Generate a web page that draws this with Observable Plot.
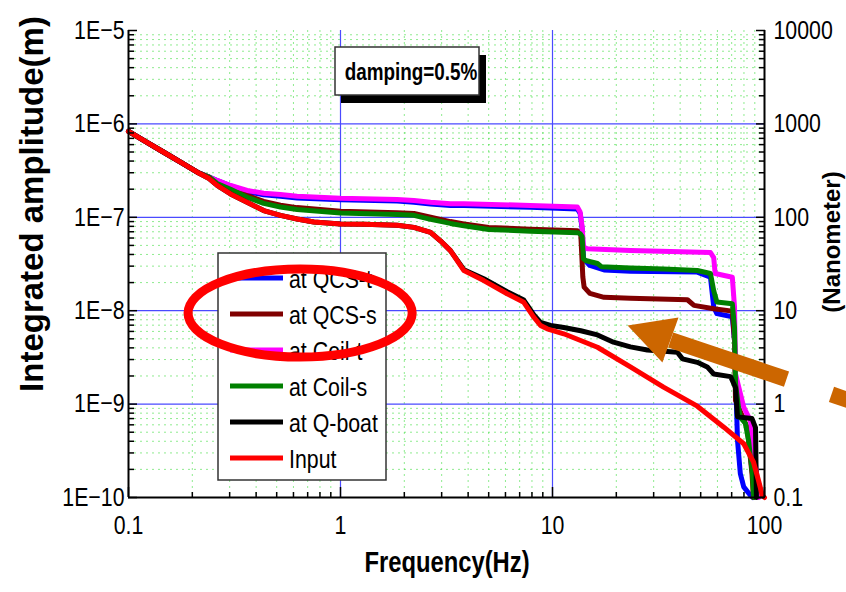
<!DOCTYPE html>
<html><head><meta charset="utf-8">
<script src="https://cdn.jsdelivr.net/npm/d3@7"></script>
<script src="https://cdn.jsdelivr.net/npm/@observablehq/plot@0.6"></script>
<style>
html,body{margin:0;padding:0;background:#fff;}
#chart{width:846px;height:592px;overflow:hidden;}
</style></head><body><div id="chart"></div>
<script>
// ---- series (frequency Hz, integrated amplitude m) ----
const seriesNames  = ["at QCS-t","at QCS-s","at Coil-t","at Coil-s","at Q-boat","Input"];
const seriesColors = ["#0000ff","#800000","#ff00ff","#008000","#000000","#ff0000"];

const fQcsT = [0.1,0.12,0.146,0.18,0.211,0.24,0.262,0.303,0.363,0.434,0.521,0.624,1.0,1.85,2.22,2.66,3.3,3.82,7.87,13.1,13.5,13.8,14.0,15.0,17.5,23.3,48.2,55.6,57.6,59.6,70.5,72.2,74.6,76.9,79.8,85.9,88.0];
const aQcsT = [8.3e-7,6.5e-7,5.0e-7,3.77e-7,3.04e-7,2.7e-7,2.48e-7,2.17e-7,1.88e-7,1.74e-7,1.68e-7,1.61e-7,1.54e-7,1.49e-7,1.45e-7,1.39e-7,1.34e-7,1.34e-7,1.28e-7,1.23e-7,1.1e-7,7.5e-8,3.6e-8,3.05e-8,2.73e-8,2.64e-8,2.59e-8,2.28e-8,1.1e-8,9.3e-9,8.6e-9,4.8e-9,4.07e-10,1.8e-10,1.3e-10,1.05e-10,1.0e-10];

const fQcsS = [0.1,0.12,0.146,0.18,0.211,0.24,0.262,0.303,0.363,0.434,0.521,0.624,1.0,1.85,2.22,2.66,3.3,3.82,5.0,7.87,13.1,13.6,13.9,14.1,15.0,17.5,23.3,43.3,46.5,57.6,70.5,72.2,73.0,82.9,87.3,88.7];
const aQcsS = [8.3e-7,6.5e-7,5.0e-7,3.77e-7,3.04e-7,2.7e-7,2.32e-7,2.06e-7,1.72e-7,1.48e-7,1.35e-7,1.27e-7,1.16e-7,1.12e-7,1.10e-7,1.0e-7,9.0e-8,8.5e-8,7.8e-8,7.45e-8,7.2e-8,6.5e-8,2.3e-8,1.79e-8,1.53e-8,1.39e-8,1.36e-8,1.31e-8,1.14e-8,1.05e-8,9.9e-9,4.8e-9,1.09e-9,5.6e-10,1.8e-10,1.0e-10];

const fCoilT = [0.1,0.12,0.146,0.18,0.211,0.24,0.262,0.303,0.363,0.434,0.521,0.624,1.0,1.85,2.22,2.66,3.3,3.82,7.87,13.1,13.5,13.8,14.0,14.6,23.3,55.6,57.6,58.5,70.5,72.2,73.0,79.8,85.9,88.7,92.7,93.7];
const aCoilT = [8.3e-7,6.5e-7,5.0e-7,3.77e-7,3.04e-7,2.7e-7,2.48e-7,2.19e-7,1.94e-7,1.81e-7,1.75e-7,1.68e-7,1.60e-7,1.55e-7,1.51e-7,1.45e-7,1.40e-7,1.40e-7,1.34e-7,1.29e-7,1.14e-7,7.9e-8,4.8e-8,4.6e-8,4.4e-8,4.2e-8,3.7e-8,2.5e-8,2.28e-8,1.1e-8,2.1e-9,9.3e-10,6.6e-10,3.4e-10,1.5e-10,1.0e-10];

const fCoilS = [0.1,0.12,0.146,0.18,0.211,0.24,0.262,0.303,0.363,0.434,0.521,0.624,1.0,1.85,2.22,2.66,3.3,3.82,5.0,7.87,13.1,13.5,13.8,14.0,14.3,16.3,17.0,23.3,33.4,48.2,55.6,57.6,59.6,70.5,72.2,73.0,75.4,76.9,81.3,84.1,85.9,87.7,88.7,89.2];
const aCoilS = [8.3e-7,6.5e-7,5.0e-7,3.77e-7,3.04e-7,2.7e-7,2.3e-7,2.0e-7,1.64e-7,1.41e-7,1.29e-7,1.21e-7,1.11e-7,1.07e-7,1.05e-7,9.5e-8,8.6e-8,8.1e-8,7.4e-8,7.1e-8,6.85e-8,6.7e-8,6.2e-8,3.6e-8,3.45e-8,3.2e-8,2.96e-8,2.87e-8,2.8e-8,2.69e-8,2.5e-8,1.64e-8,1.24e-8,1.19e-8,6.6e-9,1.66e-9,9.2e-10,7.2e-10,6.2e-10,4.07e-10,2.7e-10,1.8e-10,1.1e-10,1.0e-10];

const fQboat = [0.1,0.12,0.146,0.18,0.211,0.24,0.262,0.303,0.434,0.521,0.624,0.749,1.0,1.29,1.85,2.22,2.66,2.96,3.3,3.82,4.74,6.11,7.32,8.17,8.78,9.79,11.3,13.6,16.3,19.4,23.3,28.0,38.8,41.0,48.2,53.7,57.6,69.2,73.0,74.6,87.3,90.7,91.6];
const aQboat = [8.3e-7,6.5e-7,5.0e-7,3.77e-7,3.04e-7,2.6e-7,2.2e-7,1.78e-7,1.18e-7,1.05e-7,9.6e-8,8.9e-8,8.5e-8,8.4e-8,8.2e-8,7.8e-8,6.9e-8,5.6e-8,4.4e-8,2.75e-8,2.2e-8,1.6e-8,1.3e-8,9.0e-9,7.5e-9,6.95e-9,6.6e-9,6.1e-9,5.5e-9,4.6e-9,4.1e-9,3.8e-9,3.6e-9,3.05e-9,2.8e-9,2.5e-9,2.1e-9,1.97e-9,1.5e-9,7.3e-10,7.0e-10,5.6e-10,1.0e-10];

const fInput = [0.1,0.12,0.146,0.18,0.211,0.24,0.262,0.303,0.434,0.521,0.624,0.749,1.0,1.29,1.85,2.22,2.66,2.96,3.3,3.82,4.74,6.11,7.32,8.17,8.78,9.44,11.3,16.3,23.3,33.4,48.2,64.3,79.8,88.7,93.7,97.7,100];
const aInput = [8.3e-7,6.5e-7,5.0e-7,3.77e-7,3.04e-7,2.6e-7,2.2e-7,1.78e-7,1.18e-7,1.05e-7,9.6e-8,8.9e-8,8.5e-8,8.4e-8,8.2e-8,7.8e-8,6.9e-8,5.6e-8,4.4e-8,2.69e-8,2.1e-8,1.52e-8,1.23e-8,8.5e-9,6.95e-9,6.4e-9,5.66e-9,4.06e-9,2.5e-9,1.52e-9,9.5e-10,5.66e-10,3.76e-10,2.4e-10,1.52e-10,1.05e-10,1.0e-10];

const seriesF = [fQcsT,fQcsS,fCoilT,fCoilS,fQboat,fInput];
const seriesA = [aQcsT,aQcsS,aCoilT,aCoilS,aQboat,aInput];

// ---- axes ----
const xDecades = [0.1,1,10,100];
const xTickLabels = ["0.1","1","10","100"];
const yDecades = [1e-10,1e-9,1e-8,1e-7,1e-6,1e-5];
const yLeftLabels  = ["1E\u221210","1E\u22129","1E\u22128","1E\u22127","1E\u22126","1E\u22125"];
const yRightLabels = ["0.1","1","10","100","1000","10000"];
const minorMult = [2,3,4,5,6,7,8,9];
const xMinor = [0.1,1,10].flatMap(d => minorMult.map(m => d*m));
const yMinor = [1e-10,1e-9,1e-8,1e-7,1e-6].flatMap(d => minorMult.map(m => d*m));
const xGridMajor = [1,10];
const yGridMajor = [1e-9,1e-8,1e-7,1e-6];

// ---- annotations (in data coordinates) ----
const annotationText = "damping=0.5%";
const arrowHeadF = [22.6,39.3,33.0];
const arrowHeadA = [6.95e-9,8.45e-9,2.79e-9];
const arrowShaft1F = [36.1,127];
const arrowShaft1A = [4.86e-9,1.85e-9];
const arrowShaft2F = [207,400];
const arrowShaft2A = [1.27e-9,7.6e-10];
const ellipseF = [0.192,2.19];
const ellipseA = [3.15e-9,2.76e-8];

const xTitle = "Frequency(Hz)";
const yTitle = "Integrated amplitude(m)";
const y2Title = "(Nanometer)";

const FONT = "'Liberation Sans',Arial,sans-serif";
const NARROW_FACTOR = 0.82;
const ORANGE = "#cc6600";

const toRows = (fs, as) => fs.map((f,i) => ({f, a: as[i]}));

const lineMarks = seriesF.map((fs,i) =>
  Plot.line(toRows(fs, seriesA[i]), {x:"f", y:"a", stroke: seriesColors[i], strokeWidth: 5, strokeLinejoin:"round", strokeLinecap:"round"}));

const plot = Plot.plot({
  width: 846, height: 592,
  marginLeft: 128, marginRight: 82, marginTop: 30, marginBottom: 95,
  x: {type:"log", domain:[0.1,100], label:null},
  y: {type:"log", domain:[1e-10,1e-5], label:null},
  style: {background:"#fff", color:"#000", overflow:"visible"},
  marks: [
    Plot.ruleX(xMinor, {stroke:"#44dd44", strokeOpacity:0.6, strokeDasharray:"2,4"}),
    Plot.ruleY(yMinor, {stroke:"#44dd44", strokeOpacity:0.6, strokeDasharray:"2,4"}),
    Plot.ruleX(xGridMajor, {stroke:"#4a4aff", strokeWidth:1.2}),
    Plot.ruleY(yGridMajor, {stroke:"#4a4aff", strokeWidth:1.2}),
    ...lineMarks,
    Plot.ruleY([1e-10], {stroke:"#000", strokeWidth:2}),
    Plot.ruleX([0.1, 100], {stroke:"#000", strokeWidth:2}),
    // bottom axis
    Plot.axisX({anchor:"bottom", ticks:xDecades, tickSize:0, tickPadding:18, tickFormat:d=>xTickLabels[xDecades.indexOf(d)], fontSize:26, fontFamily:FONT, label:null}),
    Plot.axisX({anchor:"bottom", ticks:xDecades, tickSize:-10, tickFormat:()=>"", label:null, strokeWidth:1.5}),
    Plot.axisX({anchor:"bottom", ticks:xMinor, tickSize:-5, tickFormat:()=>"", label:null, strokeWidth:1.5}),
    // left axis
    Plot.axisY({anchor:"left", ticks:yDecades, tickSize:0, tickPadding:4, tickFormat:d=>yLeftLabels[yDecades.indexOf(d)], fontSize:26, fontFamily:FONT, label:null}),
    Plot.axisY({anchor:"left", ticks:yDecades, tickSize:-9, tickFormat:()=>"", label:null, strokeWidth:1.5}),
    Plot.axisY({anchor:"left", ticks:yMinor, tickSize:-6, tickFormat:()=>"", label:null, strokeWidth:1.5}),
    // right axis (nanometer)
    Plot.axisY({anchor:"right", ticks:yDecades, tickSize:0, tickPadding:9, tickFormat:d=>yRightLabels[yDecades.indexOf(d)], fontSize:26, fontFamily:FONT, label:null}),
    Plot.axisY({anchor:"right", ticks:yDecades, tickSize:-9, tickFormat:()=>"", label:null, strokeWidth:1.5}),
    Plot.axisY({anchor:"right", ticks:yMinor, tickSize:-6, tickFormat:()=>"", label:null, strokeWidth:1.5}),
    // orange arrow
    Plot.line(toRows(arrowShaft1F, arrowShaft1A), {x:"f", y:"a", stroke:ORANGE, strokeWidth:16, strokeLinecap:"butt"}),
    Plot.line(toRows(arrowShaft2F, arrowShaft2A), {x:"f", y:"a", stroke:ORANGE, strokeWidth:16, strokeLinecap:"butt"}),
    Plot.line(toRows(arrowHeadF, arrowHeadA), {x:"f", y:"a", fill:ORANGE, stroke:"none"})
  ]
});

document.getElementById("chart").appendChild(plot);
const svg = d3.select(plot);
const sx = plot.scale("x"), sy = plot.scale("y");

// condense text horizontally to mimic a narrow face
function condense(sel, k) {
  sel.each(function () {
    const L = this.getComputedTextLength();
    if (L > 0) { this.setAttribute("textLength", (L * k).toFixed(1)); this.setAttribute("lengthAdjust", "spacingAndGlyphs"); }
  });
}
condense(svg.selectAll("g[aria-label$='tick label'] text"), NARROW_FACTOR);

// axis titles
svg.append("text").attr("transform","translate(43,204) rotate(-90)").attr("text-anchor","middle")
  .attr("font-family",FONT).attr("font-weight","bold").attr("font-size",33).attr("fill","#000").text(yTitle);
const xt = svg.append("text").attr("x",447).attr("y",572).attr("text-anchor","middle")
  .attr("font-family",FONT).attr("font-weight","bold").attr("font-size",29).attr("fill","#000").text(xTitle);
condense(xt, NARROW_FACTOR);
svg.append("text").attr("transform","translate(840,242) rotate(-90)").attr("text-anchor","middle")
  .attr("font-family",FONT).attr("font-weight","bold").attr("font-size",24).attr("fill","#000").text(y2Title);

// damping annotation box with shadow
const ab = svg.append("g");
ab.append("rect").attr("x",341).attr("y",55).attr("width",145).attr("height",48).attr("fill","#000");
ab.append("rect").attr("x",335).attr("y",47).attr("width",144).attr("height",48).attr("fill","#fff").attr("stroke","#333").attr("stroke-width",1.5);
const at = ab.append("text").attr("x",411).attr("y",80).attr("text-anchor","middle").attr("font-family",FONT)
  .attr("font-weight","bold").attr("font-size",23).attr("fill","#000").text(annotationText);
condense(at, NARROW_FACTOR);

// legend
const lg = svg.append("g").attr("transform","translate(218,253)");
lg.append("rect").attr("width",168).attr("height",227).attr("fill","#fff").attr("stroke","#333").attr("stroke-width",1.5);
seriesNames.forEach((n,i) => {
  const y = 25 + 36*i;
  lg.append("line").attr("x1",12).attr("x2",65).attr("y1",y).attr("y2",y).attr("stroke",seriesColors[i]).attr("stroke-width",5);
  const t = lg.append("text").attr("x",71).attr("y",y+10).attr("text-anchor","start").attr("font-family",FONT)
    .attr("font-size",26).attr("fill","#000").text(n);
  condense(t, NARROW_FACTOR);
});

// red ellipse highlight
const ex0 = sx.apply(ellipseF[0]), ex1 = sx.apply(ellipseF[1]);
const ey0 = sy.apply(ellipseA[0]), ey1 = sy.apply(ellipseA[1]);
svg.append("ellipse").attr("cx",(ex0+ex1)/2).attr("cy",(ey0+ey1)/2)
  .attr("rx",Math.abs(ex1-ex0)/2).attr("ry",Math.abs(ey1-ey0)/2)
  .attr("fill","none").attr("stroke","#ff0000").attr("stroke-width",9);
</script></body></html>
